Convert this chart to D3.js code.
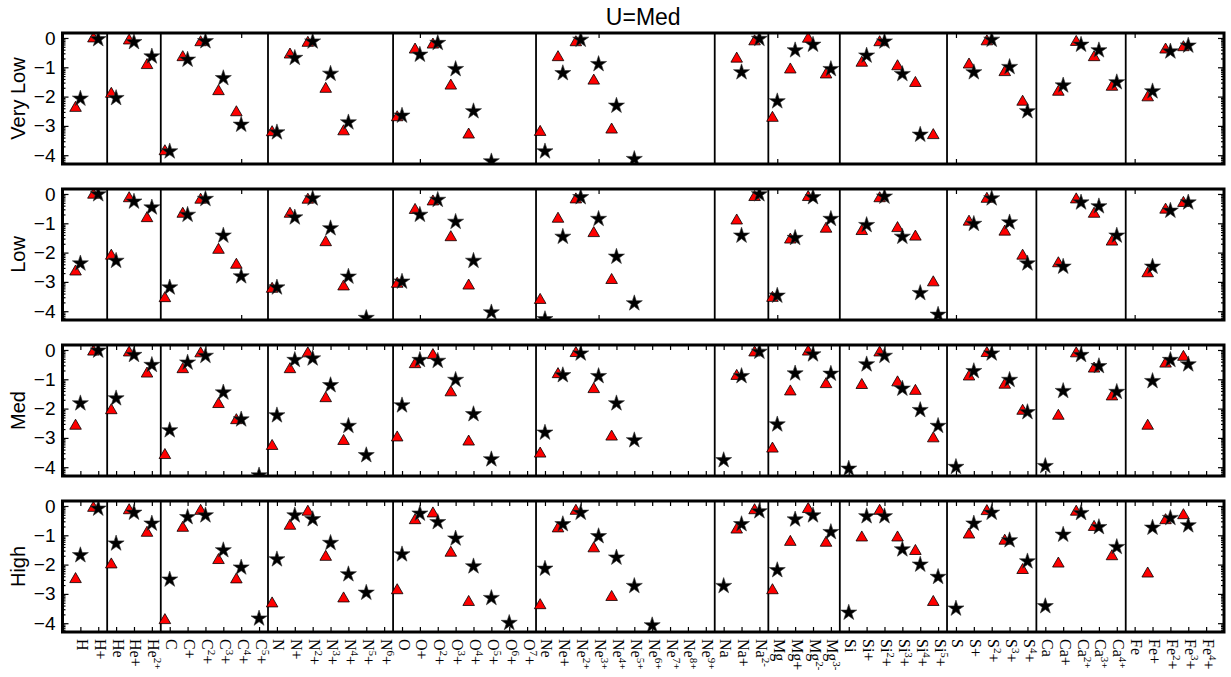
<!DOCTYPE html>
<html>
<head>
<meta charset="utf-8">
<script src="https://cdn.jsdelivr.net/npm/d3@7/dist/d3.min.js"></script>
<style>
  body { margin: 0; background: #fff; }
  text { fill: #000; }
</style>
</head>
<body>
<svg id="chart" width="1231" height="677"></svg>
<script>
const _ = null;

// イオン名（^{..} は上付き）
const ions = [
  "H", "H+",
  "He", "He+", "He^{2+}",
  "C", "C+", "C^{2}+", "C^{3}+", "C^{4}+", "C^{5}+",
  "N", "N+", "N^{2}+", "N^{3}+", "N^{4}+", "N^{5}+", "N^{6}+",
  "O", "O+", "O^{2}+", "O^{3}+", "O^{4}+", "O^{5}+", "O^{6}+", "O^{7}+",
  "Ne", "Ne+", "Ne^{2+}", "Ne^{3+}", "Ne^{4+}", "Ne^{5+}", "Ne^{6+}", "Ne^{7+}", "Ne^{8+}", "Ne^{9+}",
  "Na", "Na+", "Na^{2-}",
  "Mg", "Mg+", "Mg^{2-}", "Mg^{3-}",
  "Si", "Si+", "Si^{2}+", "Si^{3}+", "Si^{4}+", "Si^{5}+",
  "S", "S+", "S^{2}+", "S^{3}+", "S^{4}+",
  "Ca", "Ca+", "Ca^{2+}", "Ca^{3+}", "Ca^{4+}",
  "Fe", "Fe+", "Fe^{2}+", "Fe^{3}+", "Fe^{4}+"
];

const rowNames = ["Very Low", "Low", "Med", "High"];
const title = "U=Med";
const yTicks = [0, -1, -2, -3, -4];

// 赤三角
const triVeryLow = [
  -2.39, -0.02,
  -1.91, -0.09, -0.93,
  -3.87, -0.66, -0.15, -1.82, -2.54, _,
  -3.22, -0.57, -0.17, -1.74, -3.19, _, _,
  -2.71, -0.40, -0.23, -1.63, -3.30, _, _, _,
  -3.21, -0.66, -0.15, -1.46, -3.13, _, _, _, _, _,
  _, -0.71, -0.12,
  -2.73, -1.08, -0.03, -1.25,
  _, -0.85, -0.15, -0.97, -1.54, -3.32,
  _, -0.91, -0.12, -1.17, -2.18,
  _, -1.84, -0.14, -0.66, -1.67,
  _, -2.03, -0.40, -0.32, _
];
const triLow = [
  -2.65, -0.03,
  -2.11, -0.15, -0.83,
  -3.56, -0.68, -0.20, -1.91, -2.42, _,
  -3.24, -0.68, -0.20, -1.65, -3.16, _, _,
  -3.07, -0.55, -0.26, -1.48, -3.13, _, _, _,
  -3.62, -0.85, -0.19, -1.34, -2.94, _, _, _, _, _,
  _, -0.91, -0.11,
  -3.55, -1.56, -0.11, -1.19,
  _, -1.27, -0.15, -1.17, -1.46, -3.02,
  _, -0.95, -0.17, -1.29, -2.11,
  _, -2.37, -0.19, -0.68, -1.63,
  _, -2.71, -0.54, -0.31, _
];
const triMed = [
  -2.59, -0.06,
  -2.06, -0.09, -0.81,
  -3.59, -0.66, -0.12, -1.85, -2.40, _,
  -3.28, -0.66, -0.12, -1.65, -3.11, _, _,
  -2.99, -0.49, -0.18, -1.45, -3.13, _, _, _,
  -3.54, -0.83, -0.11, -1.34, -2.96, _, _, _, _, _,
  _, -0.89, -0.09,
  -3.37, -1.42, -0.06, -1.17,
  _, -1.20, -0.09, -1.11, -1.40, -3.02,
  _, -0.91, -0.11, -1.19, -2.08,
  _, -2.25, -0.12, -0.64, -1.59,
  _, -2.59, -0.47, -0.24, _
];
const triHigh = [
  -2.50, -0.07,
  -2.00, -0.15, -0.92,
  -3.90, -0.75, -0.17, -1.85, -2.51, _,
  -3.33, -0.68, -0.20, -1.74, -3.16, _, _,
  -2.88, -0.49, -0.26, -1.60, -3.28, _, _, _,
  -3.39, -0.77, -0.17, -1.45, -3.11, _, _, _, _, _,
  _, -0.81, -0.15,
  -2.88, -1.23, -0.11, -1.26,
  _, -1.08, -0.17, -1.08, -1.54, -3.28,
  _, -0.98, -0.18, -1.19, -2.19,
  _, -1.97, -0.20, -0.72, -1.72,
  _, -2.31, -0.49, -0.32, _
];

// 黒星
const starVeryLow = [
  -2.07, -0.04,
  -2.05, -0.14, -0.63,
  -3.87, -0.74, -0.11, -1.37, -2.96, _,
  -3.22, -0.68, -0.12, -1.22, -2.88, _, _,
  -2.65, -0.57, -0.17, -1.06, -2.50, -4.21, _, _,
  -3.87, -1.20, -0.06, -0.89, -2.31, -4.13, _, _, _, _,
  _, -1.17, -0.03,
  -2.16, -0.42, -0.23, -1.06,
  _, -0.60, -0.12, -1.23, -3.30, _,
  _, -1.17, -0.06, -0.99, -2.50,
  _, -1.62, -0.23, -0.42, -1.51,
  _, -1.82, -0.46, -0.26, _
];
const starLow = [
  -2.37, -0.01,
  -2.28, -0.26, -0.46,
  -3.19, -0.71, -0.17, -1.42, -2.81, _,
  -3.19, -0.80, -0.15, -1.17, -2.82, -4.23, _,
  -2.99, -0.71, -0.20, -0.95, -2.28, -4.04, _, _,
  -4.27, -1.46, -0.11, -0.85, -2.14, -3.73, _, _, _, _,
  _, -1.42, -0.01,
  -3.47, -1.50, -0.11, -0.85,
  _, -1.06, -0.09, -1.46, -3.38, -4.12,
  _, -1.02, -0.15, -0.97, -2.37,
  _, -2.48, -0.29, -0.42, -1.42,
  _, -2.48, -0.57, -0.29, _
];
const starMed = [
  -1.82, -0.02,
  -1.65, -0.17, -0.51,
  -2.74, -0.43, -0.20, -1.45, -2.37, -4.28,
  -2.23, -0.34, -0.29, -1.20, -2.59, -3.59, _,
  -1.89, -0.34, -0.37, -1.02, -2.19, -3.73, _, _,
  -2.82, -0.86, -0.12, -0.89, -1.82, -3.08, _, _, _, _,
  -3.76, -0.89, -0.06,
  -2.54, -0.80, -0.15, -0.81,
  -4.05, -0.49, -0.20, -1.32, -2.05, -2.59,
  -3.99, -0.72, -0.12, -1.02, -2.12,
  -3.96, -1.40, -0.17, -0.55, -1.43,
  _, -1.06, -0.34, -0.49, _
];
const starHigh = [
  -1.68, -0.09,
  -1.28, -0.23, -0.60,
  -2.51, -0.38, -0.32, -1.51, -2.10, -3.84,
  -1.82, -0.32, -0.45, -1.26, -2.33, -2.96, _,
  -1.65, -0.26, -0.55, -1.11, -2.06, -3.14, -3.99, _,
  -2.14, -0.62, -0.23, -1.03, -1.76, -2.73, -4.07, _, _, _,
  -2.73, -0.62, -0.18,
  -2.19, -0.46, -0.32, -0.89,
  -3.64, -0.35, -0.35, -1.48, -2.00, -2.42,
  -3.50, -0.60, -0.23, -1.17, -1.89,
  -3.42, -0.98, -0.24, -0.72, -1.40,
  _, -0.74, -0.41, -0.66, _
];

const triSeries = [triVeryLow, triLow, triMed, triHigh];
const starSeries = [starVeryLow, starLow, starMed, starHigh];

// レイアウト
const LEFT = 62.5, RIGHT = 1224;
const TOP0 = 33, PANEL_H = 131, PANEL_STEP = 156;
const SANS = "'Liberation Sans', Arial, Helvetica, sans-serif";
const SERIF = "'Liberation Serif', 'Times New Roman', serif";

const svg = d3.select("#chart");

const x = d3.scaleLinear().domain([0, ions.length + 1]).range([LEFT, RIGHT]);
const y = d3.scaleLinear().domain([-4.3, 0.17]).range([PANEL_H, 0]);

const element = (s) => s.match(/^[A-Z][a-z]?/)[0];

// 元素の区切り位置
const seps = [];
for (let i = 0; i < ions.length - 1; i++) {
  if (element(ions[i]) !== element(ions[i + 1])) seps.push(i + 1.5);
}

// 対数風の副目盛
const minorTicks = [];
for (let m = -4; m <= 1; m++) {
  for (let k = 2; k <= 9; k++) {
    const v = m - 1 + Math.log10(k);
    if (v > -4.3 && v < 0.17) minorTicks.push(v);
  }
}

const triangle = d3.symbol().type(d3.symbolTriangle).size(58);
const star = d3.symbol().type(d3.symbolStar).size(80);

svg.append("text")
  .attr("x", (LEFT + RIGHT) / 2)
  .attr("y", 25)
  .attr("text-anchor", "middle")
  .style("font", `23px ${SANS}`)
  .text(title);

rowNames.forEach((name, p) => {
  const top = TOP0 + p * PANEL_STEP;
  const g = svg.append("g").attr("transform", `translate(0,${top})`);

  g.append("clipPath").attr("id", `clip${p}`)
    .append("rect")
    .attr("x", LEFT).attr("y", 0)
    .attr("width", RIGHT - LEFT).attr("height", PANEL_H);

  // 区切り線
  g.selectAll("line.sep")
    .data(seps)
    .join("line")
    .attr("class", "sep")
    .attr("x1", (d) => x(d)).attr("x2", (d) => x(d))
    .attr("y1", 0).attr("y2", PANEL_H)
    .attr("stroke", "#000")
    .attr("stroke-width", 1.8);

  // x 目盛
  const xt = p < 2 ? d3.range(10, ions.length + 1, 10) : d3.range(1, ions.length + 1);
  g.append("g")
    .attr("transform", `translate(0,${PANEL_H})`)
    .call(d3.axisBottom(x).tickValues(xt).tickSize(-5).tickFormat(""))
    .call((a) => a.select(".domain").remove());
  g.append("g")
    .call(d3.axisTop(x).tickValues(xt).tickSize(-5).tickFormat(""))
    .call((a) => a.select(".domain").remove());

  // y 目盛
  g.append("g")
    .attr("transform", `translate(${LEFT},0)`)
    .call(d3.axisLeft(y).tickValues(yTicks).tickSize(-6).tickPadding(7).tickFormat(d3.format("d")))
    .call((a) => a.select(".domain").remove())
    .call((a) => a.selectAll("text").style("font", `19px ${SANS}`));
  g.append("g")
    .attr("transform", `translate(${LEFT},0)`)
    .call(d3.axisLeft(y).tickValues(minorTicks).tickSize(-3).tickFormat(""))
    .call((a) => a.select(".domain").remove());
  g.append("g")
    .attr("transform", `translate(${RIGHT},0)`)
    .call(d3.axisRight(y).tickValues(yTicks).tickSize(-6).tickFormat(""))
    .call((a) => a.select(".domain").remove());
  g.append("g")
    .attr("transform", `translate(${RIGHT},0)`)
    .call(d3.axisRight(y).tickValues(minorTicks).tickSize(-3).tickFormat(""))
    .call((a) => a.select(".domain").remove());
  g.selectAll(".tick line").attr("stroke-width", 1.2);

  // マーカー
  const marks = g.append("g").attr("clip-path", `url(#clip${p})`);
  const tri = triSeries[p].map((v, i) => ({ i: i + 1, v })).filter((d) => d.v !== null);
  const st = starSeries[p].map((v, i) => ({ i: i + 1, v })).filter((d) => d.v !== null);

  marks.selectAll("path.tri")
    .data(tri)
    .join("path")
    .attr("class", "tri")
    .attr("d", triangle)
    .attr("transform", (d) => `translate(${x(d.i - 0.27)},${y(d.v)})`)
    .attr("fill", "#f00")
    .attr("stroke", "#000")
    .attr("stroke-width", 0.8);

  marks.selectAll("path.star")
    .data(st)
    .join("path")
    .attr("class", "star")
    .attr("d", star)
    .attr("transform", (d) => `translate(${x(d.i)},${y(d.v)})`)
    .attr("fill", "#000")
    .attr("stroke", "#333")
    .attr("stroke-width", 0.6);

  // 枠
  g.append("rect")
    .attr("x", LEFT).attr("y", 0)
    .attr("width", RIGHT - LEFT).attr("height", PANEL_H)
    .attr("fill", "none")
    .attr("stroke", "#000")
    .attr("stroke-width", 3);

  // 行ラベル
  g.append("text")
    .attr("transform", `translate(18,${PANEL_H / 2}) rotate(-90)`)
    .attr("text-anchor", "middle")
    .attr("dy", "0.35em")
    .style("font", `20px ${SANS}`)
    .text(name);
});

// x ラベル（最下段のみ、縦書き）
const labelTop = TOP0 + 3 * PANEL_STEP + PANEL_H + 7;
const lab = svg.append("g");
ions.forEach((s, i) => {
  const m = s.match(/^([A-Za-z]+)(?:\^\{(.+?)\})?(.*)$/);
  const t = lab.append("text")
    .attr("transform", `translate(${x(i + 1) - 3.5},${labelTop}) rotate(90)`)
    .style("font", `16px ${SERIF}`);
  t.append("tspan").text(m[1]);
  if (m[2]) {
    t.append("tspan").attr("dy", -6).style("font-size", "11px").text(m[2]);
    if (m[3]) t.append("tspan").attr("dy", 6).text(m[3]);
  } else if (m[3]) {
    t.append("tspan").text(m[3]);
  }
});
</script>
</body>
</html>
